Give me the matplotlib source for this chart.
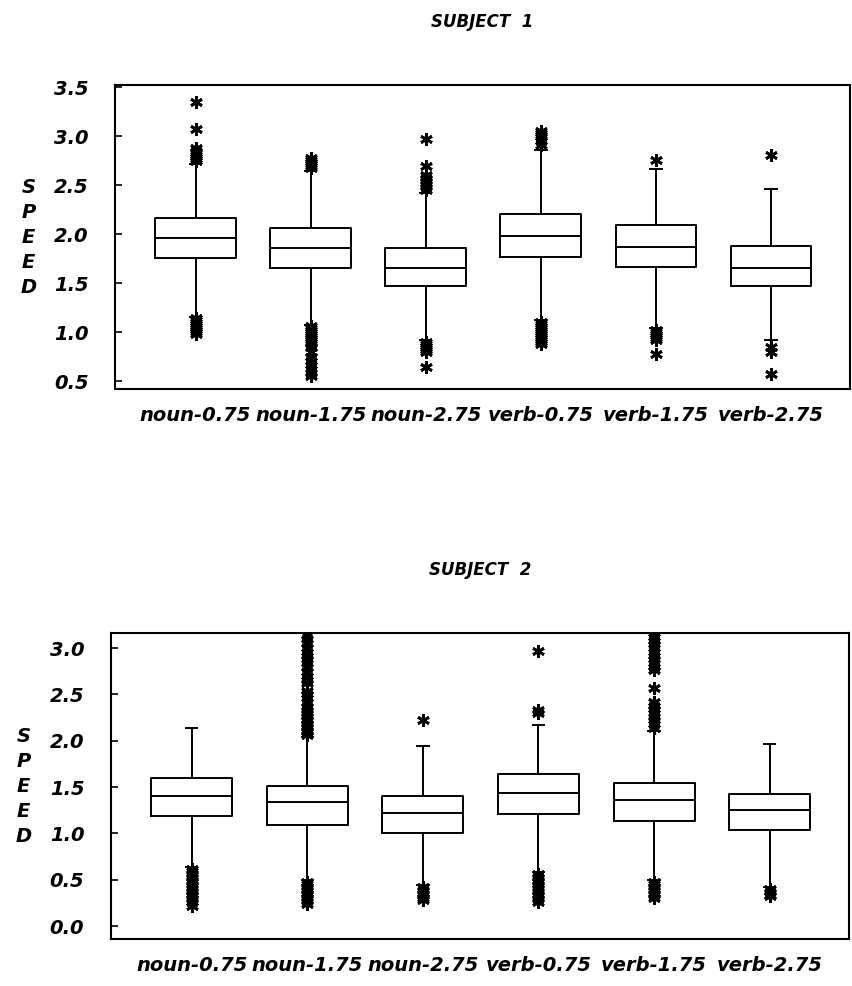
import numpy as np
import matplotlib.pyplot as plt

plt.rcParams['font.family'] = 'DejaVu Sans'
plt.rcParams['font.weight'] = 'bold'
plt.rcParams['font.style'] = 'italic'

conditions = ['noun-0.75', 'noun-1.75', 'noun-2.75', 'verb-0.75', 'verb-1.75', 'verb-2.75']

# subject 1 box statistics
s1_q1 = [1.76, 1.66, 1.47, 1.77, 1.67, 1.47]
s1_med = [1.96, 1.86, 1.65, 1.98, 1.87, 1.66]
s1_q3 = [2.17, 2.06, 1.86, 2.21, 2.09, 1.88]
s1_lo = [1.15, 1.07, 0.92, 1.12, 1.04, 0.92]
s1_hi = [2.72, 2.65, 2.42, 2.86, 2.67, 2.46]
s1_out = [
    [3.35, 3.07, 2.88, 2.85, 2.83, 2.81, 2.79, 2.77, 2.75,
     1.14, 1.12, 1.10, 1.08, 1.06, 1.04, 1.02, 1.00, 0.98],
    [2.78, 2.76, 2.74, 2.72, 2.70, 2.68,
     1.06, 1.04, 1.02, 1.00, 0.98, 0.96, 0.94, 0.92, 0.90, 0.88, 0.85,
     0.80, 0.75, 0.71, 0.66, 0.62, 0.58, 0.55],
    [2.97, 2.70, 2.60, 2.57, 2.54, 2.51, 2.48, 2.45,
     0.90, 0.88, 0.86, 0.84, 0.82, 0.80, 0.64],
    [3.05, 3.03, 3.01, 2.99, 2.95, 2.91,
     1.10, 1.08, 1.06, 1.04, 1.02, 1.00, 0.98, 0.96, 0.94, 0.92, 0.90, 0.88],
    [2.76, 1.02, 1.00, 0.98, 0.96, 0.94, 0.92, 0.78],
    [2.81, 0.85, 0.80, 0.57],
]

# subject 2 box statistics
s2_q1 = [1.19, 1.09, 1.00, 1.21, 1.13, 1.04]
s2_med = [1.40, 1.34, 1.22, 1.44, 1.36, 1.25]
s2_q3 = [1.60, 1.51, 1.40, 1.64, 1.54, 1.43]
s2_lo = [0.64, 0.50, 0.44, 0.58, 0.50, 0.42]
s2_hi = [2.14, 2.04, 1.94, 2.17, 2.11, 1.97]
s2_out = [
    [0.62, 0.59, 0.56, 0.53, 0.50, 0.47, 0.44, 0.41, 0.38, 0.35, 0.32,
     0.29, 0.26, 0.22],
    [2.06, 2.09, 2.12, 2.15, 2.18, 2.21, 2.24, 2.27, 2.30, 2.33, 2.36,
     2.42, 2.46, 2.50, 2.54, 2.62, 2.66, 2.70, 2.74, 2.80, 2.84, 2.88,
     2.92, 2.96, 3.00, 3.06, 3.10, 3.14,
     0.48, 0.45, 0.42, 0.39, 0.36, 0.33, 0.30, 0.27, 0.24],
    [2.22, 0.42, 0.39, 0.36, 0.33, 0.30, 0.28],
    [2.97, 2.33, 2.30, 0.56, 0.53, 0.50, 0.47, 0.44, 0.41, 0.38, 0.35,
     0.32, 0.29, 0.26],
    [3.16, 3.12, 3.08, 3.04, 3.00, 2.96, 2.92, 2.88, 2.84, 2.80, 2.76,
     2.57, 2.42, 2.38, 2.34, 2.30, 2.26, 2.22, 2.18, 2.14,
     0.48, 0.45, 0.42, 0.39, 0.36, 0.33, 0.30],
    [0.40, 0.37, 0.34, 0.32],
]

s1_ticks = [0.5, 1.0, 1.5, 2.0, 2.5, 3.0, 3.5]
s2_ticks = [0.0, 0.5, 1.0, 1.5, 2.0, 2.5, 3.0]


def make_stats(q1, med, q3, lo, hi, out):
    return [dict(q1=q1[i], med=med[i], q3=q3[i], whislo=lo[i], whishi=hi[i],
                 fliers=np.array(out[i]), label=conditions[i])
            for i in range(len(conditions))]


def draw(ax, stats, ticks, ylim, title):
    line = dict(color='black', linewidth=1.4)
    ax.bxp(stats, widths=0.70, capwidths=0.10,
           boxprops=line, medianprops=line, whiskerprops=line, capprops=line,
           flierprops=dict(marker=(6, 2, 0), markersize=9, markeredgewidth=2.0,
                           markeredgecolor='black', markerfacecolor='black',
                           linestyle='none'))
    ax.set_xlim(0.3, 6.69)
    ax.set_ylim(*ylim)
    ax.set_yticks(ticks)
    ax.set_yticklabels(['%.1f' % t for t in ticks])
    ax.tick_params(axis='y', direction='in', length=5, width=1.2, pad=19, labelsize=14)
    ax.tick_params(axis='x', length=0, pad=12, labelsize=14)
    for s in ax.spines.values():
        s.set_linewidth(1.5)
    ax.set_title(title, fontsize=12, fontweight='bold', pad=42)
    ax.text(-0.118, 0.5, '\n'.join('SPEED'), transform=ax.transAxes,
            ha='center', va='center', fontsize=14, linespacing=1.4)


fig = plt.figure(figsize=(8.52, 9.86), dpi=100)
ax1 = fig.add_axes([0.135, 0.6055, 0.863, 0.308])
ax2 = fig.add_axes([0.130, 0.0477, 0.867, 0.310])

draw(ax1, make_stats(s1_q1, s1_med, s1_q3, s1_lo, s1_hi, s1_out),
     s1_ticks, (0.42, 3.52), 'SUBJECT  1')
draw(ax2, make_stats(s2_q1, s2_med, s2_q3, s2_lo, s2_hi, s2_out),
     s2_ticks, (-0.14, 3.16), 'SUBJECT  2')

fig.savefig('out.png', dpi=100)
